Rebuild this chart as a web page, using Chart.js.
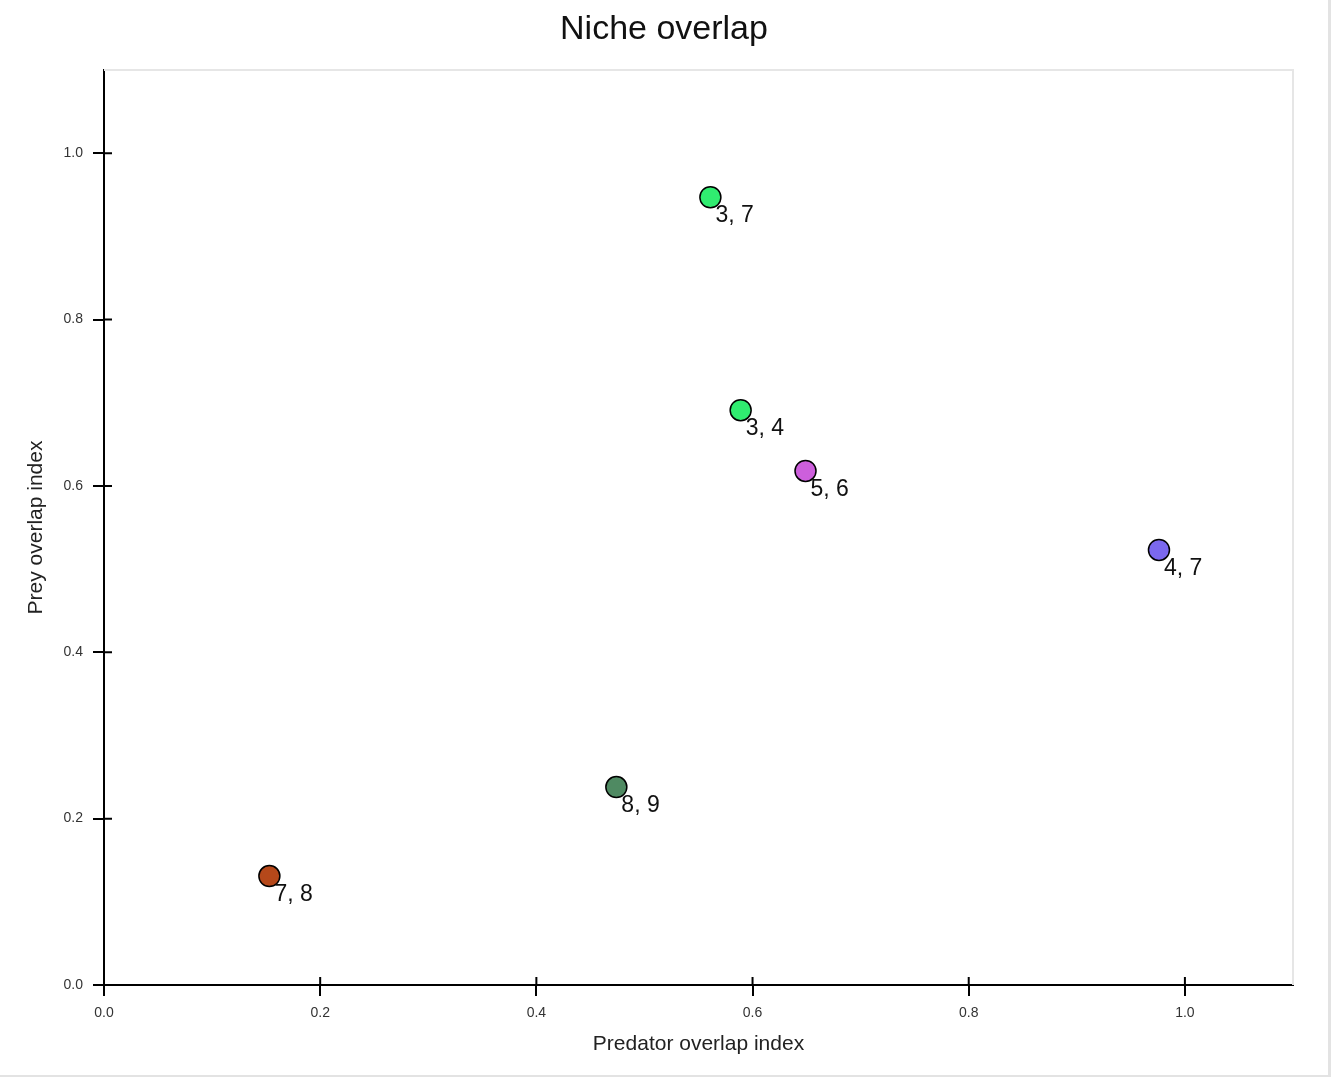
<!DOCTYPE html>
<html lang="en">

<head>
    <meta charset="UTF-8">
    <title>Niche overlap</title>
    <script src="https://cdn.jsdelivr.net/npm/chart.js@4.4.0/dist/chart.umd.min.js"></script>
    <style>
        body { margin: 0; background: #fff; }
        #wrap {
            width: 1331px; height: 1077px; box-sizing: border-box;
            border-right: 3px solid #e3e3e3; border-bottom: 2px solid #e3e3e3;
        }
    </style>
</head>

<body>
    <div id="wrap">
        <canvas id="chart"></canvas>
    </div>

    <script>
        // data
        const pairLabels = ['3, 7', '3, 4', '5, 6', '4, 7', '8, 9', '7, 8']
        const predatorOverlap = [0.561, 0.589, 0.649, 0.976, 0.474, 0.153]
        const preyOverlap = [0.947, 0.691, 0.618, 0.523, 0.238, 0.131]
        const pointColors = ['#30ec70', '#30ec70', '#cd5fdc', '#7b68ee', '#4f8a62', '#b5481a']
        const tickValues = [0, 0.2, 0.4, 0.6, 0.8, 1.0]

        const fontFamily = '"Liberation Sans", Arial, sans-serif'

        let points = predatorOverlap.map((x, i) => ({ x: x, y: preyOverlap[i] }))

        // light frame on top / right of plot area
        const areaFrame = {
            id: 'areaFrame',
            beforeDatasetsDraw(chart) {
                const a = chart.chartArea
                const ctx = chart.ctx
                ctx.save()
                ctx.strokeStyle = '#e6e6e6'
                ctx.lineWidth = 2
                ctx.beginPath()
                ctx.moveTo(a.left, a.top)
                ctx.lineTo(a.right, a.top)
                ctx.lineTo(a.right, a.bottom)
                ctx.stroke()
                ctx.restore()
            }
        }

        // tick marks also poke inside the plot
        const innerTicks = {
            id: 'innerTicks',
            afterDraw(chart) {
                const ctx = chart.ctx
                const xs = chart.scales.x
                const ys = chart.scales.y
                ctx.save()
                ctx.strokeStyle = '#000'
                ctx.lineWidth = 2
                ctx.beginPath()
                xs.ticks.forEach((t, i) => {
                    const px = xs.getPixelForTick(i)
                    ctx.moveTo(px, xs.top)
                    ctx.lineTo(px, xs.top - 8)
                })
                ys.ticks.forEach((t, i) => {
                    const py = ys.getPixelForTick(i)
                    ctx.moveTo(ys.right, py)
                    ctx.lineTo(ys.right + 8, py)
                })
                ctx.stroke()
                ctx.restore()
            }
        }

        // "a, b" labels beside each point
        const pointLabels = {
            id: 'pointLabels',
            afterDatasetsDraw(chart) {
                const ctx = chart.ctx
                const meta = chart.getDatasetMeta(0)
                ctx.save()
                ctx.font = '23px ' + fontFamily
                ctx.fillStyle = '#111'
                ctx.textAlign = 'left'
                ctx.textBaseline = 'alphabetic'
                meta.data.forEach((el, i) => {
                    ctx.fillText(pairLabels[i], el.x + 5, el.y + 25)
                })
                ctx.restore()
            }
        }

        const ctx = document.getElementById('chart').getContext('2d')
        const myChart = new Chart(ctx, {
            type: 'scatter',
            data: {
                datasets: [{
                    label: 'pairs',
                    data: points,
                    backgroundColor: pointColors,
                    borderColor: '#000',
                    borderWidth: 1.5,
                    pointRadius: 10.5,
                    pointHoverRadius: 10.5
                }]
            },
            options: {
                responsive: true,
                maintainAspectRatio: false,
                animation: false,
                layout: {
                    padding: 0
                },
                plugins: {
                    legend: { display: false },
                    tooltip: { enabled: false },
                    title: {
                        display: true,
                        text: 'Niche overlap',
                        color: '#111',
                        font: { family: fontFamily, size: 34, weight: 'normal' },
                        padding: { top: 9, bottom: 20.2 }
                    }
                },
                scales: {
                    x: {
                        type: 'linear',
                        min: 0,
                        max: 1.1,
                        afterFit(scale) { scale.height = 90 },
                        afterBuildTicks(scale) { scale.ticks = tickValues.map(v => ({ value: v })) },
                        border: { display: true, color: '#000', width: 2 },
                        grid: { drawOnChartArea: false, drawTicks: true, tickLength: 11, color: '#000', lineWidth: 2 },
                        ticks: {
                            padding: 9,
                            color: '#333',
                            font: { family: fontFamily, size: 14 },
                            maxRotation: 0,
                            callback: v => Number(v).toFixed(1)
                        },
                        title: {
                            display: true,
                            text: 'Predator overlap index',
                            color: '#222',
                            font: { family: fontFamily, size: 21 },
                            padding: { top: 0, bottom: 18 }
                        }
                    },
                    y: {
                        type: 'linear',
                        min: 0,
                        max: 1.1,
                        afterFit(scale) { scale.width = 104 },
                        afterBuildTicks(scale) { scale.ticks = tickValues.map(v => ({ value: v })) },
                        border: { display: true, color: '#000', width: 2 },
                        grid: { drawOnChartArea: false, drawTicks: true, tickLength: 11, color: '#000', lineWidth: 2 },
                        ticks: {
                            padding: 10,
                            color: '#333',
                            font: { family: fontFamily, size: 14 },
                            callback: v => Number(v).toFixed(1)
                        },
                        title: {
                            display: true,
                            text: 'Prey overlap index',
                            color: '#222',
                            font: { family: fontFamily, size: 21 },
                            padding: { top: 24, bottom: 0 }
                        }
                    },
                    // empty right gutter so the title centres on the whole canvas
                    gutter: {
                        type: 'linear',
                        position: 'right',
                        min: 0,
                        max: 1,
                        afterFit(scale) { scale.width = 35 },
                        border: { display: false },
                        grid: { display: false },
                        ticks: { display: false }
                    }
                }
            },
            plugins: [areaFrame, innerTicks, pointLabels]
        });
    </script>

</body>

</html>
